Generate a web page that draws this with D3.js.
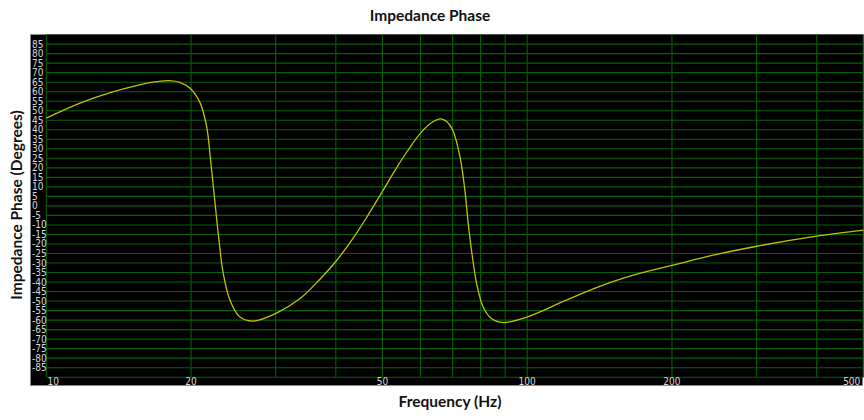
<!DOCTYPE html>
<html>
<head>
<meta charset="utf-8">
<script src="https://cdn.jsdelivr.net/npm/d3@7/dist/d3.min.js"></script>
<style>
  html, body { margin: 0; padding: 0; background: #fff; }
  svg { display: block; }
</style>
</head>
<body>
<svg id="chart" width="864" height="420"></svg>
<script>
const freq = [10, 11.75, 13.8, 16.2, 17.0, 18.0, 19.0, 19.9, 20.9, 21.55, 21.96, 22.4, 22.86, 23.33, 24.1, 25.27, 26.94, 30.1, 33.7, 37.07, 40, 43.5, 46.4, 50, 53.5, 56.6, 60, 62.8, 66.1, 68.0, 70, 72.5, 74.2, 75.4, 76.6, 78.5, 81, 84.3, 89.1, 99.8, 106.3, 118.8, 139.4, 163.5, 200, 243.7, 300, 400, 500];
const phase = [46.1, 54, 60, 64.5, 65.3, 65.8, 64.8, 61.8, 54, 41.6, 24.1, 3.0, -18, -35.5, -49.6, -58.4, -60.5, -56.3, -48.7, -38.5, -29.2, -16.8, -5.9, 7.6, 20.0, 29.5, 38.2, 43.2, 45.7, 44.3, 39.9, 25.8, 8.3, -9.2, -23.3, -40.8, -53.1, -59.2, -61.3, -58.4, -55.7, -50.2, -42.9, -36.9, -31.3, -25.9, -21.2, -15.9, -12.7];

const xGridTicks = [10, 20, 30, 40, 50, 60, 70, 80, 90, 100, 200, 300, 400, 500];
const xLabelTicks = [10, 20, 50, 100, 200, 500];
const yTicks = d3.range(-85, 90, 5);

const title = "Impedance Phase";
const xTitle = "Frequency (Hz)";
const yTitle = "Impedance Phase (Degrees)";

const svg = d3.select("#chart");
const L = 46.3, R = 863.3, T = 34.6, B = 377.2;

const x = d3.scaleLog().domain([10, 500]).range([L, R]);
const y = d3.scaleLinear().domain([-90, 90]).range([B, T]);

// outer frame
svg.append("rect").attr("x", 30.5).attr("y", 34.5).attr("width", 832).attr("height", 351)
  .attr("fill", "#000").attr("stroke", "#8a8a8a").attr("stroke-width", 1);

// plot area
svg.append("rect").attr("x", L).attr("y", T).attr("width", R - L).attr("height", B - T).attr("fill", "#000");

const grid = svg.append("g").attr("stroke", "#056005").attr("stroke-width", 1.1);
grid.selectAll("line.h").data(yTicks.concat([-90])).join("line")
  .attr("x1", L).attr("x2", R)
  .attr("y1", d => y(d)).attr("y2", d => y(d));
grid.selectAll("line.v").data(xGridTicks).join("line")
  .attr("x1", d => x(d)).attr("x2", d => x(d))
  .attr("y1", T).attr("y2", B);

// curve
const line = d3.line().x((d, i) => x(freq[i])).y(d => y(d)).curve(d3.curveCatmullRom.alpha(0.5));
svg.append("path").datum(phase).attr("d", line)
  .attr("fill", "none").attr("stroke", "#c2c200").attr("stroke-width", 1.3);

// y tick labels
const tickFont = "'Liberation Sans Narrow', 'DejaVu Sans Condensed', 'Arial Narrow', sans-serif";
svg.append("g").selectAll("text").data(yTicks).join("text")
  .attr("x", 32).attr("y", d => y(d)).attr("dy", "0.35em")
  .attr("font-family", tickFont).attr("font-size", 10).attr("fill", "#d8d8d8")
  .text(d => d);

// x tick labels
svg.append("g").selectAll("text").data(xLabelTicks).join("text")
  .attr("x", d => d === 10 ? x(d) + 7 : (d === 500 ? x(d) - 3 : x(d)))
  .attr("y", 385)
  .attr("text-anchor", d => d === 500 ? "end" : "middle")
  .attr("font-family", tickFont).attr("font-size", 10).attr("fill", "#d8d8d8")
  .text(d => d);

const titleFont = "Lato, 'Open Sans', sans-serif";
svg.append("text").attr("x", 430).attr("y", 21).attr("text-anchor", "middle")
  .attr("font-family", titleFont).attr("font-weight", "bold").attr("font-size", 15.5).attr("fill", "#111")
  .text(title);
svg.append("text").attr("x", 450).attr("y", 407).attr("text-anchor", "middle")
  .attr("font-family", titleFont).attr("font-weight", "bold").attr("font-size", 15.5).attr("fill", "#111")
  .text(xTitle);
svg.append("text").attr("transform", "translate(22,205) rotate(-90)").attr("text-anchor", "middle")
  .attr("font-family", titleFont).attr("font-weight", "bold").attr("font-size", 15.5).attr("fill", "#111")
  .text(yTitle);
</script>
</body>
</html>
